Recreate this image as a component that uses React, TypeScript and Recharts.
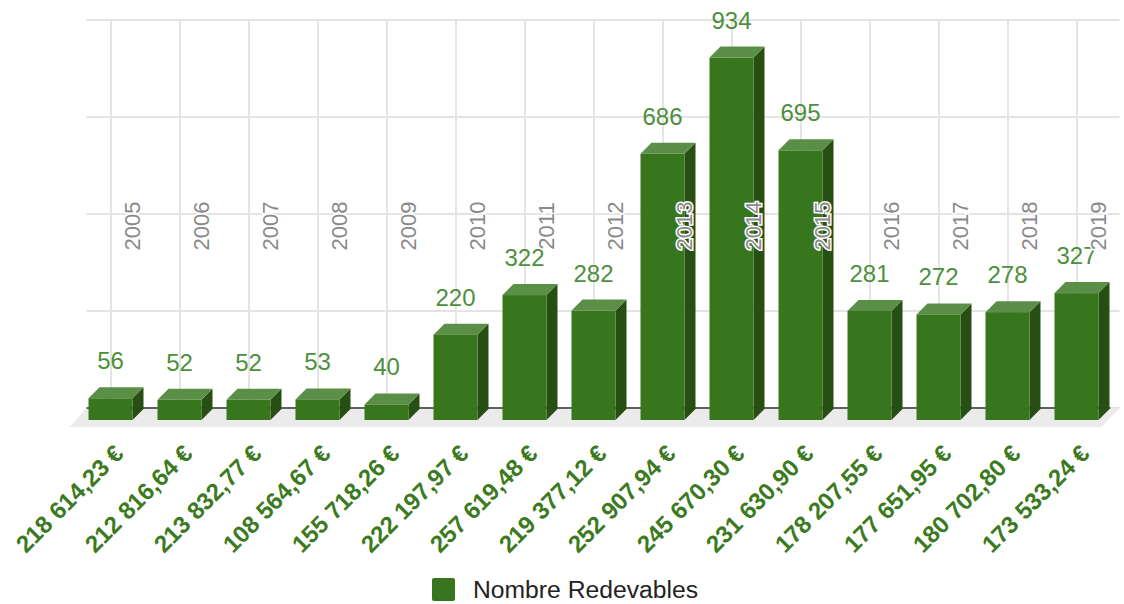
import React from "react";
import {
  BarChart,
  Bar,
  XAxis,
  YAxis,
  CartesianGrid,
  LabelList,
  ReferenceArea,
} from "recharts";

const years = [
  "2005", "2006", "2007", "2008", "2009", "2010", "2011", "2012",
  "2013", "2014", "2015", "2016", "2017", "2018", "2019",
];
const redevables = [56, 52, 52, 53, 40, 220, 322, 282, 686, 934, 695, 281, 272, 278, 327];
const montants = [
  "218 614,23 €", "212 816,64 €", "213 832,77 €", "108 564,67 €", "155 718,26 €",
  "222 197,97 €", "257 619,48 €", "219 377,12 €", "252 907,94 €", "245 670,30 €",
  "231 630,90 €", "178 207,55 €", "177 651,95 €", "180 702,80 €", "173 533,24 €",
];
const yTicks = [0, 250, 500, 750, 1000];

const data = years.map((year, i) => ({
  year,
  count: redevables[i],
  montant: montants[i],
}));

const FONT = "Arial, 'Liberation Sans', sans-serif";
const FRONT = "#38761d";
const TOP = "#5b8f48";
const SIDE = "#274e13";
const DEPTH_X = 11;
const DEPTH_Y = 12;

// 3D box: the scale gives the back wall, the front face is pushed down/left
const Box3D = (props: any) => {
  const { x, y, width, height } = props;
  if (width == null || height == null) return null;
  const fx = x - 1;
  const fy = y + DEPTH_Y;
  const bottom = y + height + DEPTH_Y;
  const w = width;
  const d = DEPTH_X;
  return (
    <g>
      <polygon
        points={`${fx + w},${fy} ${fx + w + d},${fy - d} ${fx + w + d},${bottom - d} ${fx + w},${bottom}`}
        fill={SIDE}
      />
      <polygon
        points={`${fx},${fy} ${fx + d},${fy - d} ${fx + w + d},${fy - d} ${fx + w},${fy}`}
        fill={TOP}
      />
      <rect x={fx} y={fy} width={w} height={bottom - fy} fill={FRONT} />
    </g>
  );
};

const Floor = (props: any) => {
  const { x, y, width, height } = props;
  const by = y + height;
  return (
    <g>
      <polygon
        points={`${x + 10},${by} ${x + width + 8},${by} ${x + width - 10},${by + 19} ${x - 7},${by + 19}`}
        fill="#ebebeb"
      />
      <line x1={x + 10} y1={by} x2={x + width - 1} y2={by} stroke="#333" strokeWidth={1.5} />
    </g>
  );
};

const ValueLabel = (props: any) => {
  const { x, y, width, value } = props;
  return (
    <text
      x={x + width / 2 - 1}
      y={y - 17}
      textAnchor="middle"
      fill="#4d8f3d"
      fontSize={24}
      fontFamily={FONT}
    >
      {value}
    </text>
  );
};

const YearLabel = (props: any) => {
  const { x, width, value } = props;
  const cx = x + width / 2 + 28;
  const cy = 226;
  return (
    <text
      x={cx}
      y={cy}
      transform={`rotate(-90 ${cx} ${cy})`}
      textAnchor="middle"
      fill="#8a8a8a"
      stroke="#fff"
      strokeWidth={3}
      paintOrder="stroke"
      fontSize={22}
      fontFamily={FONT}
    >
      {value}
    </text>
  );
};

const MontantTick = (props: any) => {
  const { x, y, payload } = props;
  return (
    <g transform={`translate(${x + 14},${y + 47})`}>
      <text
        transform="rotate(-45)"
        textAnchor="end"
        fill="#3b7a20"
        fontSize={24}
        fontWeight="bold"
        fontFamily={FONT}
      >
        {payload.value}
      </text>
    </g>
  );
};

const GridLine = (p: any) => {
  const horizontal = p.y1 === p.y2;
  return (
    <line
      key={p.key}
      x1={horizontal ? p.x1 + 10 : p.x1}
      y1={p.y1}
      x2={horizontal ? p.x2 + 8 : p.x2}
      y2={p.y2}
      stroke="#e4e4e4"
      strokeWidth={2}
    />
  );
};

// vertical grid lines only at the category centres
const categoryCentres = ({ offset }: any) => {
  const step = offset.width / years.length;
  return years.map((_, i) => offset.left + step * (i + 0.5));
};

export default function App() {
  return (
    <div style={{ position: "absolute", left: 0, top: 0, width: 1124, height: 604, background: "#fff" }}>
      <BarChart
        width={1124}
        height={604}
        data={data}
        margin={{ top: 20, right: 12.5, left: 76.5, bottom: 0 }}
        barSize={44}
      >
        <CartesianGrid
          horizontal={GridLine}
          vertical={GridLine}
          verticalCoordinatesGenerator={categoryCentres}
        />
        <XAxis
          dataKey="montant"
          height={196}
          interval={0}
          axisLine={false}
          tickLine={false}
          tickSize={0}
          tickMargin={0}
          tick={<MontantTick />}
        />
        <YAxis type="number" domain={[0, 1000]} ticks={yTicks} hide />
        <ReferenceArea y1={0} y2={50} shape={<Floor />} />
        <Bar dataKey="count" shape={<Box3D />} isAnimationActive={false}>
          <LabelList dataKey="count" content={<ValueLabel />} />
          <LabelList dataKey="year" content={<YearLabel />} />
        </Bar>
      </BarChart>
      <div
        style={{
          position: "absolute",
          left: 432,
          top: 578,
          display: "flex",
          alignItems: "center",
          fontFamily: FONT,
          fontSize: 24.7,
          color: "#222",
        }}
      >
        <div style={{ width: 23, height: 23, background: FRONT, borderRadius: 2, marginRight: 18 }} />
        <span style={{ lineHeight: "23px" }}>Nombre Redevables</span>
      </div>
    </div>
  );
}
